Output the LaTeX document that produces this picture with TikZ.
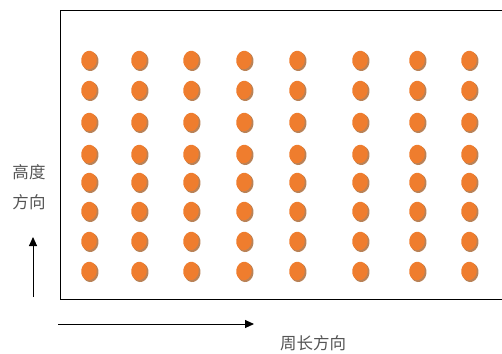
\documentclass[tikz,border=0pt]{standalone}
\usepackage{fontspec}
\usetikzlibrary{arrows.meta}
\newfontfamily\cjk{Noto Sans CJK SC}
\definecolor{dotc}{HTML}{EF7D2E}
\definecolor{shadc}{HTML}{B98257}
\definecolor{txtc}{HTML}{555555}
\begin{document}
\begin{tikzpicture}[x=1pt,y=-1pt,
  dotshape/.style={fill=dotc},
  dotshadow/.style={fill=shadc},
  lbl/.style={font=\cjk\fontsize{16.5}{20}\selectfont, text=txtc, inner sep=0pt},
  arr/.style={line width=1pt, -{Triangle[length=9pt,width=8pt]}}]
\useasboundingbox (0,0) rectangle (502,353);
\node[draw, line width=0.9pt, minimum width=442pt, minimum height=288pt, inner sep=0pt, anchor=north west] (box) at (59.5,10.5) {};
\foreach \x in {89,139,191,244,297,360,417,469}{
  \foreach \y in {60,90,122,154,182,211,241,271}{
    \fill[dotshadow, rotate around={-8:(\x+1.5,\y+1.5)}] (\x+1.5,\y+1.5) ellipse [x radius=8pt, y radius=9.6pt];
    \fill[dotshape, rotate around={-8:(\x,\y)}] (\x,\y) ellipse [x radius=7.8pt, y radius=9.3pt];
  }
}
\node[lbl] (h1) at (29,172) {高度};
\node[lbl] (h2) at (29,202) {方向};
\coordinate (va) at (33,297);
\coordinate (vb) at (33,237);
\draw[arr] (va) -- (vb);
\coordinate (ha) at (58,324);
\coordinate (hb) at (254,324);
\draw[arr] (ha) -- (hb);
\node[lbl] (c1) at (313,343) {周长方向};
\end{tikzpicture}
\end{document}
